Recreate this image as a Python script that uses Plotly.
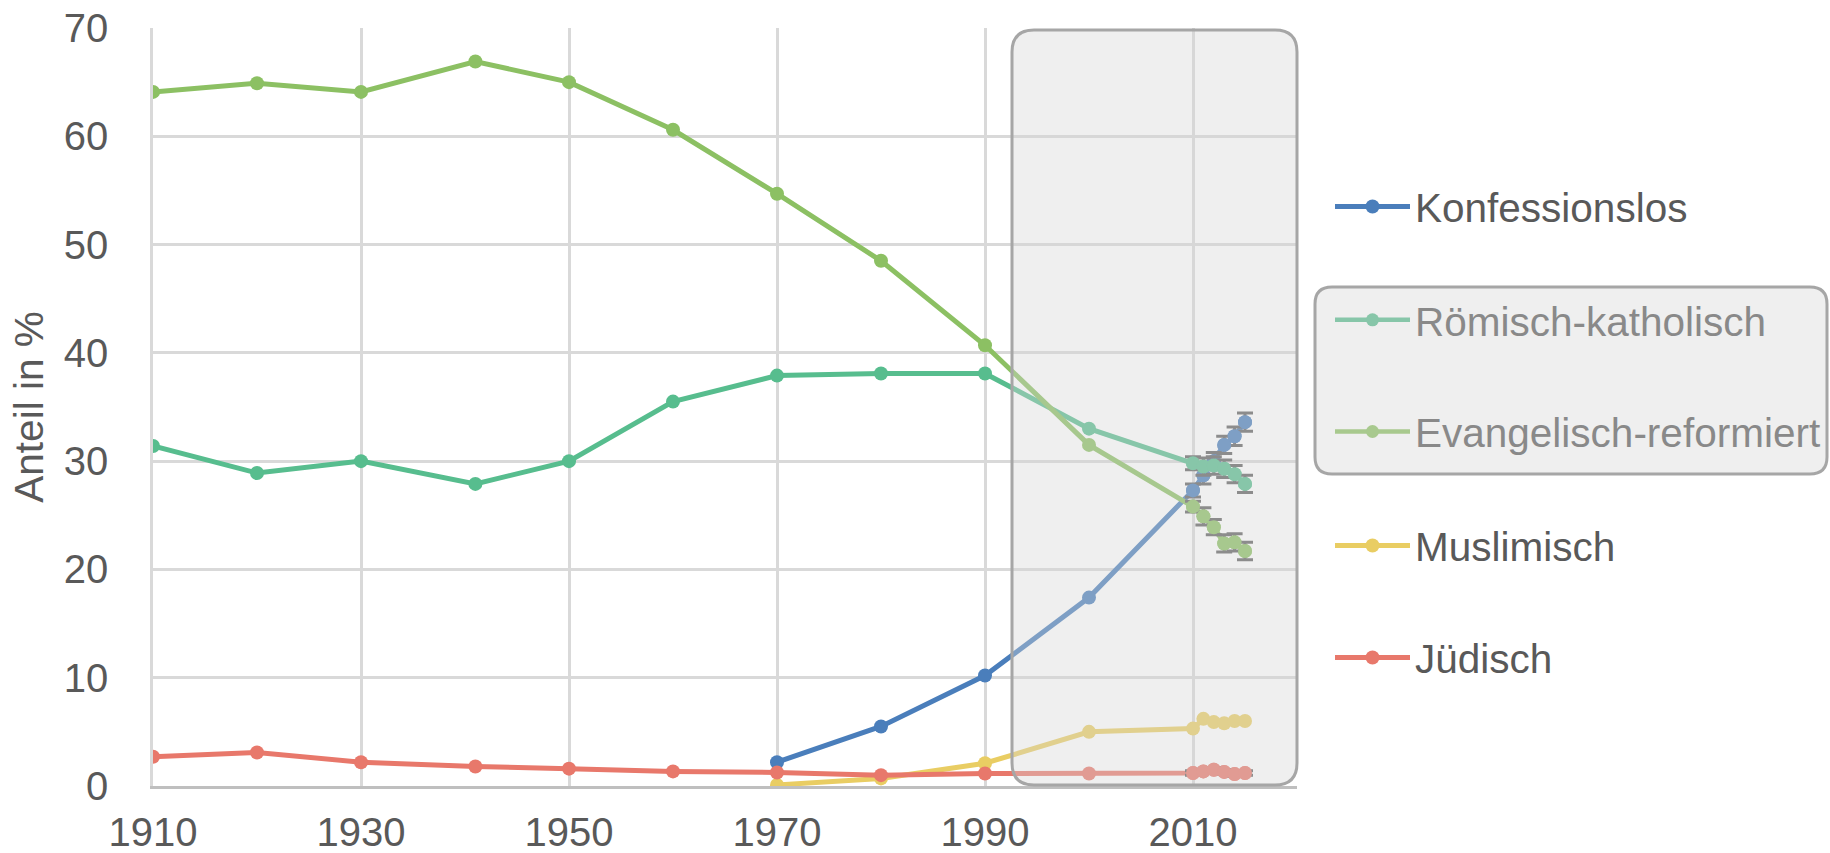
import plotly.graph_objects as go

years = [1910, 1920, 1930, 1941, 1950, 1960, 1970, 1980, 1990, 2000,
         2010, 2011, 2012, 2013, 2014, 2015]

konfessionslos = [None, None, None, None, None, None, 2.2, 5.5, 10.2, 17.4,
                  27.3, 28.7, 30.0, 31.5, 32.3, 33.6]
roemisch_katholisch = [31.4, 28.9, 30.0, 27.9, 30.0, 35.5, 37.9, 38.1, 38.1, 33.0,
                       29.8, 29.5, 29.6, 29.3, 28.8, 27.9]
evangelisch_reformiert = [64.1, 64.9, 64.1, 66.9, 65.0, 60.6, 54.7, 48.5, 40.7, 31.5,
                          25.8, 24.9, 23.9, 22.4, 22.5, 21.7]
muslimisch = [None, None, None, None, None, None, 0.1, 0.7, 2.1, 5.0,
              5.3, 6.2, 5.9, 5.8, 6.0, 6.0]
juedisch = [2.7, 3.1, 2.2, 1.8, 1.6, 1.35, 1.25, 1.0, 1.15, 1.15,
            1.2, 1.35, 1.5, 1.3, 1.1, 1.2]

# survey years (2010 onwards) carry confidence intervals
survey_start = 10
err_konf = [0.6, 0.8, 0.8, 0.8, 0.85, 0.85]
err_rk = [0.6, 0.8, 0.8, 0.8, 0.8, 0.8]
err_er = [0.5, 0.8, 0.7, 0.8, 0.8, 0.8]
err_mu = None
err_ju = [0.2, 0.2, 0.2, 0.2, 0.2, 0.2]

names = ["Konfessionslos", "Römisch-katholisch", "Evangelisch-reformiert",
         "Muslimisch", "Jüdisch"]
colors = ["#4a7ebb", "#57bd8e", "#8cc063", "#e9cd63", "#e8786b"]
faded = ["#7fa3cc", "#87c6a9", "#a8c98e", "#ddd0a2", "#dea196"]

FONT = "Liberation Sans, Arial, sans-serif"
TXT = "#595959"
FADED_TXT = "#898989"
ERRC = "#606060"
FS = 40.5

series = [konfessionslos, roemisch_katholisch, evangelisch_reformiert, muslimisch, juedisch]
errors = [err_konf, err_rk, err_er, err_mu, err_ju]
legends = ["legend", "legend2", "legend3", "legend4", "legend5"]

fig = go.Figure()
for i, (nm, ys, er) in enumerate(zip(names, series, errors)):
    show = i not in (1, 2)
    # full line
    fig.add_trace(go.Scatter(
        x=years, y=ys, name=nm, mode="lines+markers",
        line=dict(color=colors[i], width=5),
        marker=dict(color=colors[i], size=14),
        connectgaps=False, showlegend=show, legend=legends[i],
    ))
    # survey points with error bars
    if er is not None:
        fig.add_trace(go.Scatter(
            x=years[survey_start:], y=ys[survey_start:], name=nm, mode="markers",
            marker=dict(color=colors[i], size=14),
            error_y=dict(type="data", array=er, color=ERRC, thickness=3, width=8),
            showlegend=False, hoverinfo="skip",
        ))

# faded legend entries for the highlighted group
for i in (1, 2):
    fig.add_trace(go.Scatter(
        x=[None], y=[None], name=names[i], mode="lines+markers",
        line=dict(color=faded[i], width=4.5),
        marker=dict(color=faded[i], size=13),
        showlegend=True, legend=legends[i],
    ))

PL, PR, PT, PB = 153, 1297, 28, 786
W, H = 1830, 853
pw, ph = PR - PL, PB - PT


def px_x(v):
    return (v - PL) / pw


def px_y(v):
    return (PB - v) / ph


def rounded(x0, y0, x1, y1, r):
    rx, ry = r / pw, r / ph
    return (f"M{x0+rx},{y0} L{x1-rx},{y0} Q{x1},{y0} {x1},{y0+ry} "
            f"L{x1},{y1-ry} Q{x1},{y1} {x1-rx},{y1} L{x0+rx},{y1} "
            f"Q{x0},{y1} {x0},{y1-ry} L{x0},{y0+ry} Q{x0},{y0} {x0+rx},{y0} Z")


overlay = "rgba(213,213,213,0.38)"
border = "#a6a6a6"
fig.add_shape(type="path", xref="paper", yref="paper", layer="above",
              path=rounded(px_x(1012), px_y(785), px_x(1297), px_y(30), 22),
              fillcolor=overlay, line=dict(color=border, width=3))
fig.add_shape(type="path", xref="paper", yref="paper", layer="above",
              path=rounded(px_x(1315), px_y(474), px_x(1827), px_y(287), 17),
              fillcolor=overlay, line=dict(color=border, width=3))

legend_y = [206.7, 320, 431.7, 545.7, 657.7]
lx = px_x(1330)
leg_common = dict(x=lx, xanchor="left", yanchor="middle", bgcolor="rgba(0,0,0,0)",
                  borderwidth=0, itemwidth=75)
layout_legends = {}
for i, key in enumerate(legends):
    d = dict(leg_common)
    d["y"] = px_y(legend_y[i])
    d["font"] = dict(family=FONT, size=FS, color=FADED_TXT if i in (1, 2) else TXT)
    layout_legends[key] = d

fig.update_layout(
    template="none",
    width=W, height=H, autosize=False,
    margin=dict(l=PL, r=W - PR, t=PT, b=H - PB, pad=0, autoexpand=False),
    paper_bgcolor="white", plot_bgcolor="white",
    font=dict(family=FONT, size=FS, color=TXT),
    xaxis=dict(range=[1910, 2020], tick0=1910, dtick=20, showgrid=True,
               gridcolor="#d9d9d9", gridwidth=2.5, showline=True,
               linecolor="#bfbfbf", linewidth=2.5, zeroline=False, automargin=False,
               ticks="", tickfont=dict(size=40, color=TXT), ticklabelstandoff=9),
    yaxis=dict(range=[0, 70], dtick=10, showgrid=True, gridcolor="#d9d9d9",
               gridwidth=2.5, zeroline=False, showline=True, linecolor="#d9d9d9",
               linewidth=2.5, ticks="", automargin=False,
               tickfont=dict(size=40, color=TXT), ticklabelstandoff=34,
               title=dict(text="Anteil in %", font=dict(size=FS, color=TXT),
                          standoff=8)),
    **layout_legends,
)

fig.write_html("out.html", config={"displayModeBar": False},
               post_script="document.body.style.margin='0';document.body.style.overflow='hidden';")
